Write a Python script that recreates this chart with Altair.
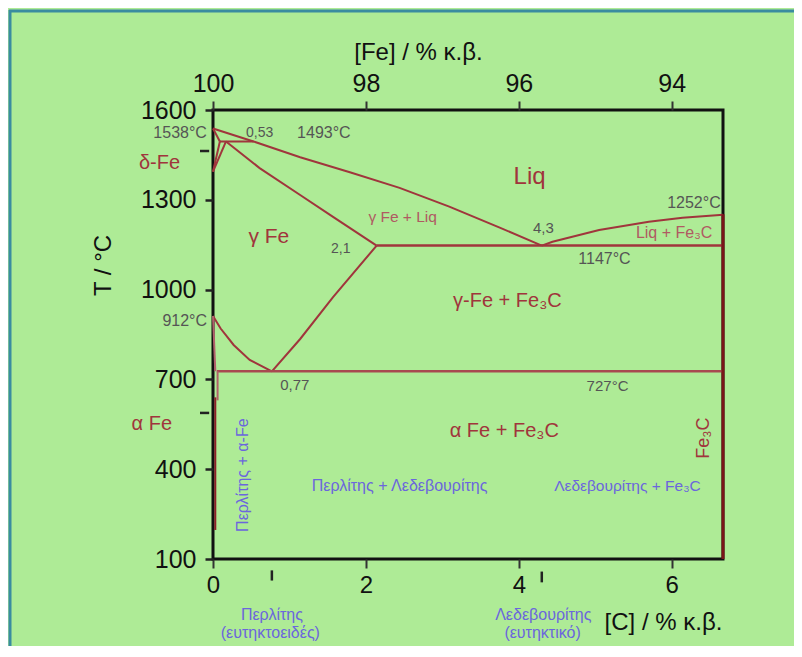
import altair as alt
import pandas as pd

# ---------------- data ----------------
liq_left_C = [0, 0.53, 1.14, 1.79, 2.44, 3.09, 3.75, 4.3]
liq_left_T = [1538, 1495, 1442, 1392, 1340, 1277, 1207, 1147]
liq_right_C = [4.3, 4.44, 5.05, 5.70, 6.14, 6.67]
liq_right_T = [1147, 1160, 1199, 1227, 1240, 1250]
solidus_C = [0.17, 0.61, 1.14, 1.57, 2.14]
solidus_T = [1495, 1406, 1316, 1243, 1147]
peritectic_C = [0.09, 0.53]
peritectic_T = [1495, 1495]
delta1_C = [0, 0.09]
delta1_T = [1538, 1495]
delta2_C = [0, 0.09]
delta2_T = [1394, 1495]
delta3_C = [0, 0.17]
delta3_T = [1394, 1495]
eutectic_C = [2.14, 6.67]
eutectic_T = [1147, 1147]
a3_C = [0, 0.1, 0.27, 0.48, 0.77]
a3_T = [912, 870, 815, 765, 727]
acm_C = [0.77, 1.14, 1.57, 2.14]
acm_T = [727, 835, 975, 1147]
eutectoid_C = [0.05, 6.67]
eutectoid_T = [727, 727]
alpha1_C = [0, 0.03]
alpha1_T = [912, 727]
alpha2_C = [0.06, 0.06]
alpha2_T = [727, 630]
alpha3_C = [0.03, 0.03]
alpha3_T = [640, 197]
fe3c_C = [6.67, 6.67]
fe3c_T = [1252, 100]

y_ticks = [100, 400, 700, 1000, 1300, 1600]
x_ticks = [0, 2, 4, 6]

# small black marks
mark_C1 = [0.77, 4.3, -0.17, -0.17]
mark_C2 = [0.77, 4.3, -0.05, -0.05]
mark_T1 = [62, 58, 1463, 588]
mark_T2 = [28, 22, 1463, 588]

RED = "#A0353C"
PALE = "#B05A62"
GREY = "#555555"
BLUE = "#6B66DD"

label_text = ["1538°C", "0,53", "1493°C", "δ-Fe", "Liq", "1252°C", "γ Fe + Liq", "4,3",
              "Liq + Fe₃C", "γ Fe", "2,1", "1147°C", "γ-Fe + Fe₃C", "912°C", "0,77",
              "727°C", "α Fe", "α Fe + Fe₃C", "Fe₃C", "Περλίτης + α-Fe",
              "Περλίτης + Λεδεβουρίτης", "Λεδεβουρίτης + Fe₃C",
              "Περλίτης", "(ευτηκτοειδές)", "Λεδεβουρίτης", "(ευτηκτικό)"]
label_C = [-0.43, 0.61, 1.45, -0.70, 4.14, 6.29, 2.48, 4.32,
           6.03, 0.73, 1.67, 5.12, 3.85, -0.37, 1.07,
           5.16, -0.80, 3.81, 6.42, 0.39,
           2.44, 5.42,
           0.77, 0.75, 4.32, 4.31]
label_T = [1523, 1523, 1523, 1423, 1376, 1289, 1242, 1206,
           1189, 1176, 1136, 1102, 962, 895, 681,
           678, 551, 528, 504, 380,
           344, 344,
           -87, -147, -87, -147]
label_color = [GREY, GREY, GREY, RED, RED, GREY, PALE, GREY,
               PALE, RED, GREY, GREY, RED, GREY, GREY,
               GREY, RED, RED, RED, BLUE,
               BLUE, BLUE,
               BLUE, BLUE, BLUE, BLUE]
label_size = [16, 14, 16, 20, 24, 16, 15.5, 15,
              16, 21, 14, 16, 20, 16, 15,
              15, 20, 20, 18, 16,
              16, 15.5,
              16, 16, 16, 16]
label_angle = [0, 0, 0, 0, 0, 0, 0, 0,
               0, 0, 0, 0, 0, 0, 0,
               0, 0, 0, 270, 270,
               0, 0,
               0, 0, 0, 0]

# ---------------- tables ----------------
segments = [
    ("liq_left", liq_left_C, liq_left_T, RED, 2),
    ("liq_right", liq_right_C, liq_right_T, RED, 2),
    ("solidus", solidus_C, solidus_T, RED, 2),
    ("peritectic", peritectic_C, peritectic_T, RED, 2),
    ("delta1", delta1_C, delta1_T, RED, 2),
    ("delta2", delta2_C, delta2_T, RED, 2),
    ("delta3", delta3_C, delta3_T, RED, 2),
    ("eutectic", eutectic_C, eutectic_T, RED, 2.5),
    ("a3", a3_C, a3_T, RED, 2),
    ("acm", acm_C, acm_T, RED, 2),
    ("eutectoid", eutectoid_C, eutectoid_T, "#A84A50", 2.5),
    ("alpha1", alpha1_C, alpha1_T, "#B0606A", 2),
    ("alpha2", alpha2_C, alpha2_T, "#B0606A", 2),
    ("alpha3", alpha3_C, alpha3_T, "#8A2028", 2),
    ("fe3c", fe3c_C, fe3c_T, "#7A1518", 3),
]
rows = []
for name, cs, ts, col, sw in segments:
    for i, (c, t) in enumerate(zip(cs, ts)):
        rows.append({"seg": name, "C": c, "T": t, "ord": i, "col": col, "sw": sw})
lines_df = pd.DataFrame(rows)

labels_df = pd.DataFrame({"text": label_text, "C": label_C, "T": label_T,
                          "color": label_color, "size": label_size, "angle": label_angle})
marks_df = pd.DataFrame({"C": mark_C1, "C2": mark_C2, "T": mark_T1, "T2": mark_T2})

FONT = "Liberation Sans"
xdom = [0, 6.67]
ydom = [100, 1600]

xscale = alt.Scale(domain=xdom, nice=False, zero=False)
yscale = alt.Scale(domain=ydom, nice=False, zero=False)

bottom_axis = alt.Axis(values=x_ticks, orient="bottom", grid=False, domain=False,
                       labelFlush=False,
                       tickSize=9, tickWidth=2, tickColor="#333", labelPadding=5,
                       labelFont=FONT, labelFontSize=24, labelColor="#111",
                       title="[C] / % κ.β.", titleFont=FONT, titleFontSize=24,
                       titleFontWeight="normal", titleColor="#111",
                       titleX=450, titleY=63, titleBaseline="middle", titleAnchor="middle")
left_axis = alt.Axis(values=y_ticks, grid=False, domain=False, format="d",
                     labelFlush=False,
                     tickSize=8, tickWidth=2.5, tickColor="#222", labelPadding=9,
                     labelFont=FONT, labelFontSize=25, labelColor="#111",
                     title="T / °C", titleFont=FONT, titleFontSize=24,
                     titleFontWeight="normal", titleColor="#111",
                     titleX=-110, titleY=155, titleBaseline="middle", titleAngle=270)
top_axis = alt.Axis(values=x_ticks, orient="top", grid=False, domain=False,
                    labelFlush=False,
                    tickSize=9, tickWidth=2, tickColor="#333", labelPadding=5,
                    labelExpr="100 - datum.value",
                    labelFont=FONT, labelFontSize=25, labelColor="#111",
                    title="[Fe] / % κ.β.", titleFont=FONT, titleFontSize=24,
                    titleFontWeight="normal", titleColor="#111",
                    titleX=205, titleY=-58, titleBaseline="middle", titleAnchor="middle")

lines = alt.Chart(lines_df).mark_line(clip=False).encode(
    x=alt.X("C:Q", scale=xscale, axis=bottom_axis),
    y=alt.Y("T:Q", scale=yscale, axis=left_axis),
    detail="seg:N",
    order="ord:Q",
    color=alt.Color("col:N", scale=None),
    strokeWidth=alt.StrokeWidth("sw:Q", scale=None),
)

top = alt.Chart(pd.DataFrame({"C": [0, 6.67], "T": [100, 100]})).mark_point(opacity=0).encode(
    x=alt.X("C:Q", scale=xscale, axis=top_axis),
    y=alt.Y("T:Q", scale=yscale),
)

texts = alt.Chart(labels_df).mark_text(font=FONT, baseline="middle", align="center").encode(
    x=alt.X("C:Q", scale=xscale, axis=None),
    y=alt.Y("T:Q", scale=yscale),
    text="text:N",
    color=alt.Color("color:N", scale=None),
    size=alt.Size("size:Q", scale=None),
    angle=alt.Angle("angle:Q", scale=None),
)

small = alt.Chart(marks_df).mark_rule(color="#222", strokeWidth=2.5).encode(
    x=alt.X("C:Q", scale=xscale, axis=None),
    x2="C2:Q",
    y=alt.Y("T:Q", scale=yscale),
    y2="T2:Q",
)

one = pd.DataFrame({"a": [0]})
border_left = alt.Chart(one).mark_rule(color="#3A8CA0", strokeWidth=3).encode(
    x=alt.value(-203), y=alt.value(-100), y2=alt.value(540))
border_top = alt.Chart(one).mark_rule(color="#3A8CA0", strokeWidth=3).encode(
    x=alt.value(-204), x2=alt.value(590), y=alt.value(-99))

chart = alt.layer(border_left, border_top, lines, small, texts, top).resolve_scale(
    x="independent"
).resolve_axis(x="independent").properties(
    width=510, height=449,
    padding={"left": 205, "top": 102, "right": 71, "bottom": 87},
    autosize=alt.AutoSizeParams(type="none"),
    background="#AEEB96",
).configure_view(stroke="#111", strokeWidth=3)

chart.save("out.html", embed_options={"renderer": "svg", "actions": False})
